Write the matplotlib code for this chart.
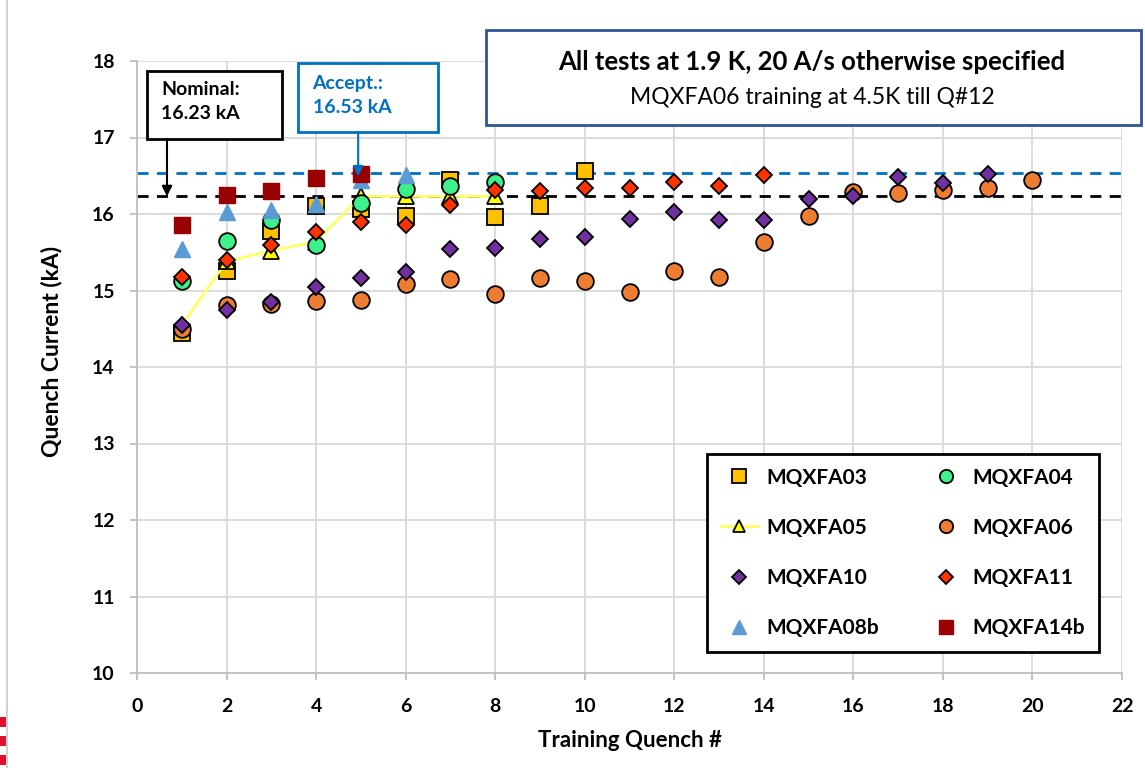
import matplotlib
matplotlib.use('Agg')
from matplotlib import pyplot as plt
from matplotlib.lines import Line2D
from matplotlib.patches import Rectangle

plt.rcParams['font.family'] = ['Lato', 'DejaVu Sans']

# training quench data (kA)
q03 = [1, 2, 3, 4, 5, 6, 7, 8, 9, 10]
i03 = [14.44, 15.25, 15.78, 16.10, 16.07, 15.98, 16.44, 15.96, 16.11, 16.56]

q04 = [1, 2, 3, 4, 5, 6, 7, 8]
i04 = [15.12, 15.65, 15.92, 15.59, 16.15, 16.33, 16.36, 16.42]

q05 = [1, 2, 3, 4, 5, 6, 7, 8]
i05 = [14.55, 15.38, 15.52, 15.64, 16.23, 16.23, 16.23, 16.23]

q06 = list(range(1, 21))
i06 = [14.50, 14.81, 14.83, 14.86, 14.87, 15.09, 15.15, 14.96, 15.16, 15.12,
       14.98, 15.25, 15.17, 15.63, 15.97, 16.29, 16.27, 16.31, 16.34, 16.45]

q10 = list(range(1, 20))
i10 = [14.55, 14.75, 14.85, 15.04, 15.16, 15.24, 15.54, 15.55, 15.67, 15.70,
       15.93, 16.02, 15.92, 15.92, 16.20, 16.24, 16.49, 16.40, 16.52]

q11 = list(range(1, 15))
i11 = [15.17, 15.40, 15.59, 15.77, 15.90, 15.86, 16.12, 16.31, 16.30, 16.34,
       16.34, 16.42, 16.36, 16.51]

q08b = [1, 2, 3, 4, 5, 6]
i08b = [15.54, 16.03, 16.05, 16.13, 16.44, 16.51]

q14b = [1, 2, 3, 4, 5]
i14b = [15.85, 16.25, 16.30, 16.47, 16.52]

nominal = 16.23
accept = 16.53

fig = plt.figure(figsize=(11.45, 7.68), dpi=100)
ax = fig.add_axes([137/1145, 1 - 673/768, (1122 - 137)/1145, (673 - 61)/768])

ax.axhline(accept, color='#0070C0', lw=2, ls=(0, (4, 3)), zorder=1)
ax.axhline(nominal, color='black', lw=2, ls=(0, (4, 3)), zorder=1)

ew = 1.3
h03, = ax.plot(q03, i03, ls='none', marker='s', ms=12, mfc='#FFC000', mec='black', mew=ew, zorder=3)
h05, = ax.plot(q05, i05, color='#FFFF66', lw=2, marker='^', ms=11, mfc='#FFFF00', mec='black', mew=ew, zorder=3)
h04, = ax.plot(q04, i04, ls='none', marker='o', ms=12, mfc='#3CF08A', mec='black', mew=ew, zorder=3)
h06, = ax.plot(q06, i06, ls='none', marker='o', ms=12, mfc='#ED7D31', mec='black', mew=ew, zorder=3)
h10, = ax.plot(q10, i10, ls='none', marker='D', ms=8.5, mfc='#7030A0', mec='black', mew=ew, zorder=3)
h11, = ax.plot(q11, i11, ls='none', marker='D', ms=8.5, mfc='#FF3300', mec='black', mew=ew, zorder=3)
h08b, = ax.plot(q08b, i08b, ls='none', marker='^', ms=12, mfc='#5B9BD5', mec='#5B9BD5', zorder=3)
h14b, = ax.plot(q14b, i14b, ls='none', marker='s', ms=12, mfc='#990000', mec='#990000', zorder=3)

ax.set_xlim(0, 22)
ax.set_ylim(10, 18)
ax.set_xticks(range(0, 23, 2))
ax.set_yticks(range(10, 19))
ax.grid(True, color='#D9D9D9', lw=1.3)
ax.set_axisbelow(True)
for s in ['top', 'right']:
    ax.spines[s].set_visible(False)
for s in ['left', 'bottom']:
    ax.spines[s].set_color('#BFBFBF')
    ax.spines[s].set_linewidth(1.3)
ax.tick_params(length=5, width=1.3, color='#BFBFBF', pad=11, labelsize=14)
ax.tick_params(axis='x', pad=13)
for lb in ax.get_xticklabels() + ax.get_yticklabels():
    lb.set_fontweight('bold')

ax.set_xlabel('Training Quench #', fontsize=16, fontweight='bold', labelpad=11)
ax.set_ylabel('Quench Current (kA)', fontsize=16.5, fontweight='bold')
ax.yaxis.set_label_coords(-0.076, 0.526)

# callout boxes
ax.add_patch(Rectangle((0.22, 16.98), 3.01, 0.89, fc='white', ec='black', lw=2, zorder=5))
ax.text(0.54, 17.47, 'Nominal:\n16.23 kA', fontsize=14, fontweight='bold', va='center', ha='left',
        linespacing=1.45, zorder=6)
ax.annotate('', xy=(0.67, nominal), xytext=(0.67, 16.98),
            arrowprops=dict(arrowstyle='-|>', color='black', lw=1.5, mutation_scale=15, shrinkA=0, shrinkB=0),
            zorder=6)

ax.add_patch(Rectangle((3.59, 17.07), 3.14, 0.91, fc='white', ec='#0070C0', lw=2, zorder=5))
ax.text(3.92, 17.55, 'Accept.:\n16.53 kA', fontsize=14, fontweight='bold', color='#0070C0',
        va='center', ha='left', linespacing=1.45, zorder=6)
ax.annotate('', xy=(4.94, 16.49), xytext=(4.94, 17.07),
            arrowprops=dict(arrowstyle='-|>', color='#0070C0', lw=1.5, mutation_scale=15, shrinkA=0, shrinkB=0),
            zorder=6)

# header box
fig.patches.append(Rectangle((486/1145, 1 - 125/768), 655/1145, 95/768, transform=fig.transFigure,
                             fc='white', ec='#2F5597', lw=2))
fig.text(812/1145, 1 - 62/768, 'All tests at 1.9 K, 20 A/s otherwise specified',
         fontsize=18.5, fontweight='bold', ha='center', va='center')
fig.text(812/1145, 1 - 97/768, 'MQXFA06 training at 4.5K till Q#12',
         fontsize=16.5, ha='center', va='center')

handles = [h03, h05, h10, h08b, h04, h06, h11, h14b]
labels = ['MQXFA03', 'MQXFA05', 'MQXFA10', 'MQXFA08b',
          'MQXFA04', 'MQXFA06', 'MQXFA11', 'MQXFA14b']
leg = ax.legend(handles, labels, ncol=2, loc='upper left',
                bbox_to_anchor=(707/1145, 1 - 454/768), bbox_transform=fig.transFigure,
                prop={'weight': 'bold', 'size': 15}, frameon=True, fancybox=False,
                edgecolor='black', framealpha=1, borderpad=0.65, labelspacing=1.45,
                handlelength=1.8, handletextpad=0.4, columnspacing=2.3, markerscale=0.8,
                borderaxespad=0)
leg.get_frame().set_linewidth(2)
leg.set_zorder(7)

# slide border remnants
fig.add_artist(Line2D([7/1145, 7/1145], [0, 1], color='#C8C8C8', lw=1.2))
for y0 in [717, 736, 755]:
    fig.patches.append(Rectangle((0, 1 - (y0 + 10)/768), 6/1145, 10/768, transform=fig.transFigure,
                                 fc='#E0102F', ec='none'))

fig.savefig('out.png', dpi=100)
